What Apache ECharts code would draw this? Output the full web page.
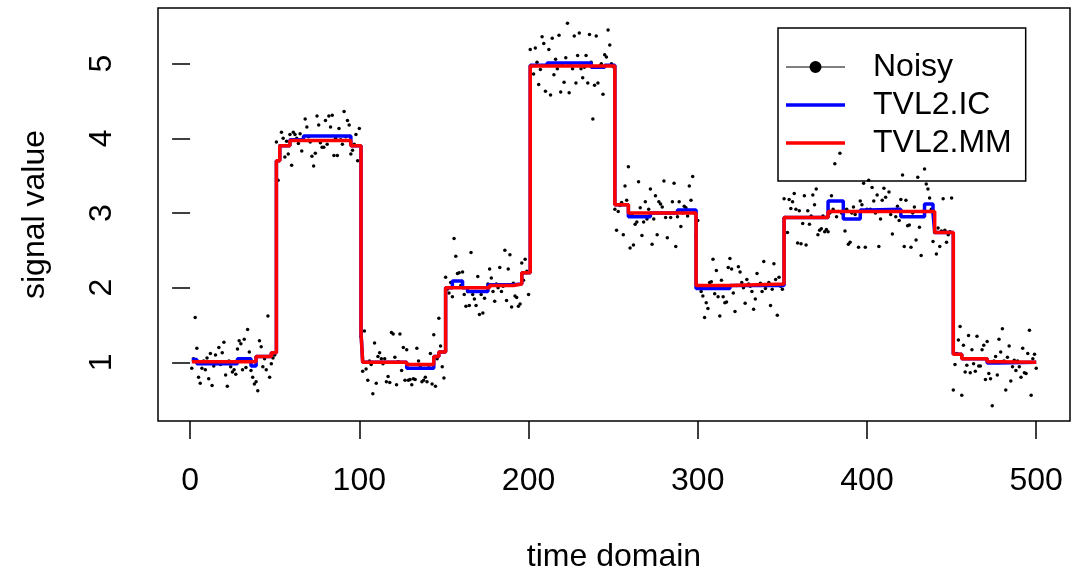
<!DOCTYPE html>
<html>
<head>
<meta charset="utf-8">
<script src="https://cdn.jsdelivr.net/npm/echarts@6/dist/echarts.min.js"></script>
<style>
  html, body { margin: 0; padding: 0; background: #fff; }
  #main { width: 1072px; height: 573px; }
</style>
</head>
<body>
<div id="main"></div>
<script>
// noisy samples, index 1..500
var noisy = [
  0.92,1.05,1.60,1.19,0.80,0.72,0.92,1.02,0.90,1.06,
  0.78,1.12,0.69,0.95,1.10,1.00,1.20,0.97,1.13,1.27,
  0.83,0.68,1.02,0.94,0.87,0.90,0.84,1.18,1.29,1.25,
  0.90,1.31,0.93,1.44,1.14,0.89,0.80,0.71,0.74,0.62,
  1.29,1.21,0.94,1.05,0.90,1.62,0.80,0.98,1.06,1.10,
  3.95,3.44,3.90,4.08,4.00,3.75,3.96,3.79,4.05,3.64,
  4.08,4.05,4.00,3.93,4.06,3.83,3.98,4.26,4.15,4.02,
  3.95,3.76,3.63,3.80,4.30,4.18,3.94,3.88,3.88,4.24,
  3.92,4.30,4.15,4.31,3.77,4.00,3.77,4.13,3.98,3.92,
  4.36,4.02,4.24,4.18,3.79,3.84,3.92,4.05,3.70,4.13,
  1.35,0.88,1.42,0.91,0.76,1.02,0.97,0.58,1.26,0.72,
  1.08,1.13,1.05,0.98,1.05,0.74,0.81,0.73,1.40,1.38,
  1.07,0.70,1.01,1.38,0.89,1.20,0.76,1.17,0.76,0.77,
  0.70,0.78,0.77,1.19,1.02,0.95,0.74,0.76,0.80,0.74,
  0.96,1.12,0.71,1.37,0.68,1.05,1.59,1.22,0.94,0.79,
  2.14,1.98,1.93,2.07,1.88,2.66,2.42,2.19,2.20,2.03,
  2.21,1.91,1.75,1.95,1.76,2.47,1.91,1.85,1.76,2.15,
  1.64,1.91,1.66,1.86,2.00,2.05,2.25,2.13,1.95,1.82,
  2.05,2.00,2.27,1.95,2.02,2.50,1.83,2.25,2.44,1.74,
  2.06,1.89,1.87,1.75,1.78,2.33,2.10,2.38,2.22,1.91,
  5.19,4.97,4.86,5.21,5.02,4.72,4.92,5.36,5.27,4.63,
  4.98,5.19,4.58,5.34,4.85,5.06,4.93,5.38,4.62,5.00,
  4.75,5.08,5.54,4.61,4.98,4.93,5.37,4.74,5.11,5.41,
  4.93,4.81,4.95,5.11,4.74,5.39,5.02,4.26,4.71,5.37,
  4.74,4.97,5.00,4.59,5.12,5.09,5.45,5.25,5.00,4.96,
  3.05,2.77,3.02,3.10,3.14,2.71,3.36,3.17,3.62,2.53,
  2.98,2.57,2.85,2.88,3.42,3.07,2.70,2.88,3.15,2.92,
  3.05,3.32,2.58,2.92,3.23,2.71,3.15,3.12,3.08,3.43,
  2.94,2.67,3.00,2.94,3.15,3.40,2.55,2.95,3.15,2.82,
  3.00,3.09,3.07,2.96,3.36,3.17,3.49,3.00,2.69,2.90,
  2.00,1.95,1.89,1.60,1.80,1.72,2.07,2.08,2.38,1.92,
  2.23,1.88,1.62,2.10,1.88,1.80,1.81,2.27,2.39,2.25,
  1.93,1.68,2.03,2.28,2.21,2.07,2.00,1.79,2.11,2.05,
  2.02,1.95,1.71,1.85,2.19,2.04,2.06,1.95,2.35,1.99,
  2.03,2.07,1.76,1.98,2.32,2.11,1.63,2.14,2.02,1.98,
  3.19,2.94,2.74,3.18,3.06,3.15,3.26,3.05,2.60,3.03,
  2.59,2.86,3.23,2.57,3.03,2.85,2.96,3.24,3.11,3.32,
  2.71,2.77,2.79,2.96,2.75,2.78,2.75,3.00,3.23,3.05,
  3.66,2.95,3.02,3.80,3.00,2.98,2.76,3.05,2.58,2.61,
  3.00,3.08,2.98,3.02,2.54,3.16,3.11,3.40,2.54,3.05,
  3.44,3.05,3.34,3.16,3.00,3.24,2.55,2.92,3.17,3.33,
  3.21,3.03,3.28,2.98,2.72,3.04,2.95,3.09,2.90,3.18,
  3.51,2.55,3.17,2.83,2.84,2.54,3.00,3.08,2.64,3.48,
  2.81,2.43,3.02,3.59,3.39,3.32,3.20,3.05,2.62,2.74,
  2.45,2.80,2.55,2.76,3.19,2.77,2.61,2.71,2.75,3.20,
  0.63,0.97,1.12,1.30,1.48,0.56,1.23,0.87,0.96,1.36,
  0.86,1.17,0.98,0.88,1.35,0.95,0.95,1.17,1.23,0.77,
  1.28,0.85,0.78,0.42,1.02,1.08,0.83,1.31,1.14,1.45,
  1.02,0.63,1.07,1.22,0.75,0.94,1.03,0.89,1.02,0.94,
  0.80,1.19,0.86,0.85,1.12,1.43,0.56,1.05,1.11,0.92
];

// piecewise constant fits: index where a level starts, and the level
var icStart = [1, 4, 28, 36, 39, 48, 51, 53, 59, 67, 95, 101, 102, 128, 144, 147,
  151, 155, 161, 164, 176, 191, 196, 201, 211, 237, 245, 251, 259, 272, 288,
  299, 319, 351, 377, 386, 396, 401, 420, 434, 439, 440, 451, 456, 471, 478, 500];
var icLevel = [1.04, 0.98, 1.05, 0.95, 1.08, 1.13, 3.70, 3.90, 3.98, 4.03, 3.90, 1.40, 1.00, 0.92, 1.08, 1.14,
  2.00, 2.09, 2.00, 1.95, 2.04, 2.05, 2.20, 4.98, 5.01, 4.95, 4.98, 3.11, 2.95, 3.00, 3.04,
  1.99, 2.03, 2.94, 3.16, 2.92, 3.04, 3.05, 2.95, 3.12, 3.00, 2.74, 1.11, 1.05, 0.99, 1.00, 1.00];

var mmStart = [1, 39, 48, 51, 53, 59, 95, 101, 102, 128, 144, 147, 151, 177, 191, 196,
  201, 251, 259, 299, 319, 351, 377, 440, 451, 456, 471, 478, 500];
var mmLevel = [1.01, 1.08, 1.13, 3.70, 3.90, 3.97, 3.90, 1.40, 1.00, 0.97, 1.08, 1.14, 2.00, 2.03, 2.05, 2.20,
  4.97, 3.11, 3.00, 2.03, 2.05, 2.94, 3.02, 2.74, 1.11, 1.05, 1.01, 1.00, 1.00];

var xTicks = [0, 100, 200, 300, 400, 500];
var yTicks = [1, 2, 3, 4, 5];

function pairs(xs, ys) {
  return xs.map(function (x, k) { return [x, ys[k]]; });
}

var font = 'Liberation Sans';
// legend glyphs drawn in a 59x12 box (tiny corner specks keep the box size)
var dotIcon = 'path://M0,5.4 L59,5.4 L59,6.6 L0,6.6 Z M23.5,6 A6,6 0 1 1 35.5,6 A6,6 0 1 1 23.5,6 Z';
var lineIcon = 'path://M0,4.2 L59,4.2 L59,7.8 L0,7.8 Z M0,0 L0.01,0 L0,0.01 Z M59,12 L58.99,12 L59,11.99 Z';

var chart = echarts.init(document.getElementById('main'));

var option = {
  animation: false,
  backgroundColor: '#fff',
  grid: {
    left: 158, right: 2, top: 8, bottom: 152,
    outerBoundsMode: 'none',
    containLabel: false,
    show: true, borderColor: '#000', borderWidth: 1.5
  },
  xAxis: {
    type: 'value',
    min: -18.96, max: 519.96,
    name: 'time domain',
    nameLocation: 'middle',
    nameGap: 120,
    nameTextStyle: { fontSize: 32, color: '#000', fontFamily: font },
    axisLine: { show: false },
    splitLine: { show: false },
    axisTick: { show: true, length: 18, customValues: xTicks, lineStyle: { color: '#000', width: 1.5 } },
    axisLabel: { customValues: xTicks, fontSize: 32, color: '#000', fontFamily: font, margin: 44 }
  },
  yAxis: {
    type: 'value',
    min: 0.215, max: 5.745,
    name: 'signal value',
    nameLocation: 'middle',
    nameGap: 107,
    nameTextStyle: { fontSize: 32, color: '#000', fontFamily: font },
    axisLine: { show: false },
    splitLine: { show: false },
    axisTick: { show: true, length: 18, customValues: yTicks, lineStyle: { color: '#000', width: 1.5 } },
    axisLabel: { customValues: yTicks, rotate: 90, fontSize: 32, color: '#000', fontFamily: font, margin: 40 }
  },
  legend: {
    orient: 'vertical',
    left: 778, top: 28,
    padding: [23, 14, 22, 8],
    itemWidth: 59, itemHeight: 12, itemGap: 6,
    borderColor: '#000', borderWidth: 1.5,
    selectedMode: false,
    textStyle: { fontSize: 32, color: '#000', fontFamily: font, padding: [0, 0, 0, 23] },
    data: [
      { name: 'Noisy', icon: dotIcon },
      { name: 'TVL2.IC', icon: lineIcon },
      { name: 'TVL2.MM', icon: lineIcon }
    ]
  },
  series: [
    {
      name: 'Noisy',
      type: 'scatter',
      symbolSize: 3.5,
      itemStyle: { color: '#000', opacity: 1 },
      data: noisy.map(function (v, k) { return [k + 1, v]; })
    },
    {
      name: 'TVL2.IC',
      type: 'line',
      step: 'end',
      symbol: 'none',
      itemStyle: { color: '#0000ff' },
      lineStyle: { color: '#0000ff', width: 3.5 },
      data: pairs(icStart, icLevel)
    },
    {
      name: 'TVL2.MM',
      type: 'line',
      step: 'end',
      symbol: 'none',
      itemStyle: { color: '#ff0000' },
      lineStyle: { color: '#ff0000', width: 3.5 },
      data: pairs(mmStart, mmLevel)
    }
  ]
};
option && chart.setOption(option);
</script>
</body>
</html>
